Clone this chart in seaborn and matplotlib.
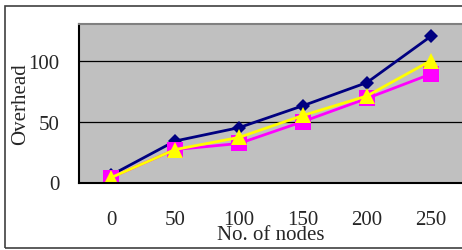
import numpy as np
import pandas as pd
import matplotlib
matplotlib.use("Agg")
import matplotlib.pyplot as plt
import seaborn as sns
from matplotlib.patches import Rectangle

sns.set_style("white")
plt.rcParams['font.family'] = ['Liberation Serif', 'DejaVu Serif']

# data
nodes = ["0", "50", "100", "150", "200", "250"]
blue_vals = [6, 34, 45, 63, 82, 120]
magenta_vals = [4, 27, 32, 50, 69, 89]
yellow_vals = [4, 27, 37, 55, 71, 100]

pos = np.arange(len(nodes))
df = pd.DataFrame({"pos": pos, "blue": blue_vals, "magenta": magenta_vals, "yellow": yellow_vals})

fig = plt.figure(figsize=(4.62, 2.51), dpi=100)
fig.patch.set_facecolor("white")
# outer chart frame
fig.patches.append(Rectangle((5 / 462, 2 / 251), 1.0, 242 / 251, transform=fig.transFigure,
                             fill=False, edgecolor="#404040", linewidth=1.2))

ax = fig.add_axes([79 / 462, (251 - 183.5) / 251, 384 / 462, (183.5 - 25) / 251])
ax.set_facecolor("#C0C0C0")

# series drawn in excel order: blue, magenta, yellow
sns.lineplot(data=df, x="pos", y="blue", ax=ax, color="#000080", linewidth=2,
             marker="D", markersize=7.5, markeredgewidth=0)
sns.lineplot(data=df, x="pos", y="magenta", ax=ax, color="#FF00FF", linewidth=2,
             marker="s", markersize=11, markeredgewidth=0)
sns.lineplot(data=df, x="pos", y="yellow", ax=ax, color="#FFFF00", linewidth=2,
             marker="^", markersize=11, markeredgewidth=0)

ax.set_xlim(-0.5, 5.5)
ax.set_ylim(0, 130)
ax.set_yticks([0, 50, 100])
ax.set_yticklabels(["0", "50", "100"], fontsize=15)
ax.yaxis.grid(True, color="black", linewidth=0.9)
ax.set_axisbelow(True)

# category labels at centres, tick marks between categories
ax.set_xticks(pos)
ax.set_xticklabels(nodes, fontsize=15)
ax.set_xticks(pos[:-1] + 0.5, minor=True)
ax.tick_params(axis="x", which="major", length=0, pad=20)
ax.tick_params(axis="x", which="minor", direction="in", length=6, width=1, color="black")
ax.tick_params(axis="y", length=0, pad=14)

# label sits tight under the tick labels, like the original
ax.set_xlabel("No. of nodes", fontsize=15)
ax.xaxis.set_label_coords(0.5, -0.265)
ax.set_ylabel("Overhead", fontsize=15)
ax.yaxis.set_label_coords(-0.128, 0.5)

for side in ["left", "bottom"]:
    ax.spines[side].set_color("black")
    ax.spines[side].set_linewidth(1.5)
ax.spines["top"].set_color("#808080")
ax.spines["top"].set_linewidth(1.5)
ax.spines["right"].set_visible(False)

fig.savefig("out.png", dpi=100)
